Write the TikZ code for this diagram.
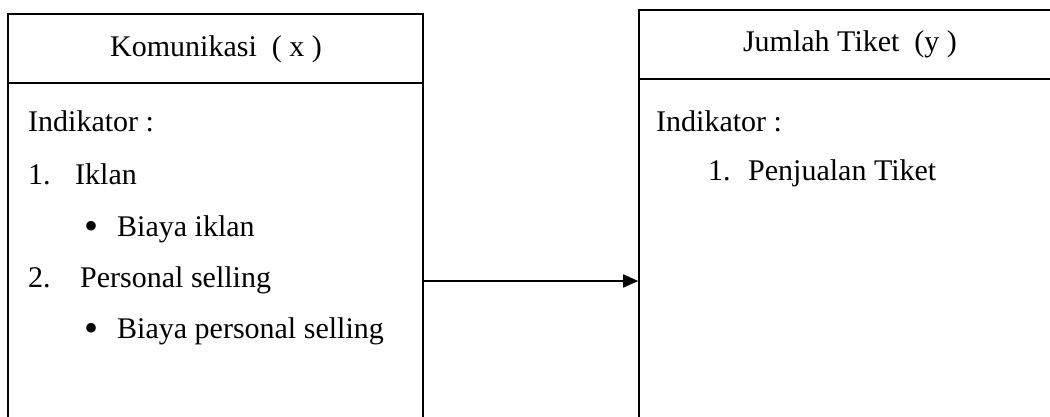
\documentclass[tikz,border=0pt]{standalone}
\usepackage{fontspec}
\setmainfont{Liberation Serif}
\usetikzlibrary{arrows.meta}
\begin{document}
\begin{tikzpicture}[x=1pt,y=-1pt,
  box/.style={draw,line width=1.6pt,rectangle,inner sep=0pt},
  txt/.style={font=\fontsize{30}{36}\selectfont,inner sep=0pt,anchor=base west},
  ttl/.style={font=\fontsize{30}{36}\selectfont,inner sep=0pt,anchor=base},
  bul/.style={font=\fontsize{40}{44}\selectfont,inner sep=0pt,anchor=center},
  rule/.style={line width=1.6pt},
  conn/.style={line width=1.6pt,-{Triangle[length=15pt,width=13pt]}}]
\useasboundingbox (0,0) rectangle (1050,416);
\clip (0,0) rectangle (1050,416);
% boxes (bottoms run past the lower edge)
\node[box,minimum width=415pt,minimum height=534pt] (L) at (215.5,281) {};
\node[box,minimum width=440pt,minimum height=542pt] (R) at (859,281) {};
\coordinate (Ld) at (8,83);
\coordinate (Rd) at (639,79);
\draw[rule] (L.west |- Ld) -- (L.east |- Ld);
\draw[rule] (R.west |- Rd) -- (R.east |- Rd);
% titles
\node[ttl] (Lt) at (216,56) {Komunikasi\ \ ( x )};
\node[ttl] (Rt) at (850,51) {Jumlah Tiket\ \ (y )};
% left content
\node[txt] (Li) at (28,131) {Indikator :};
\node[txt] (L1n) at (28,184) {1.};
\node[txt] (L1) at (75,184) {Iklan};
\node[bul] (L1b) at (92,230) {\textbullet};
\node[txt] (L1t) at (117,236) {Biaya iklan};
\node[txt] (L2n) at (28,287) {2.};
\node[txt] (L2) at (80,287) {Personal selling};
\node[bul] (L2b) at (92,332) {\textbullet};
\node[txt] (L2t) at (117,338) {Biaya personal selling};
% right content
\node[txt] (Ri) at (656,131) {Indikator :};
\node[txt] (R1n) at (708,180) {1.};
\node[txt] (R1) at (748,180) {Penjualan Tiket};
% connector
\draw[conn] (L.east) -- (R.west);
\end{tikzpicture}
\end{document}
